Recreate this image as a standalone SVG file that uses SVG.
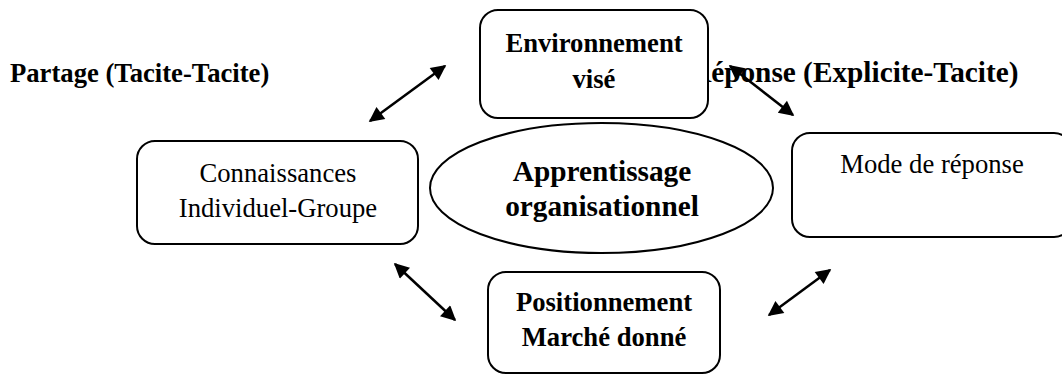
<svg xmlns="http://www.w3.org/2000/svg" width="1062" height="376" viewBox="0 0 1062 376">
<style>
.box{fill:#fff;stroke:#000;stroke-width:2}
.t{font-family:"Liberation Serif","Times New Roman",serif;font-size:26.67px;fill:#000}
.b{font-weight:bold}
.c{text-anchor:middle}
.big{font-size:29.3px}
.ar{stroke:#000;stroke-width:2.5;fill:none;marker-start:url(#ah);marker-end:url(#ah)}
</style>
<defs>
<marker id="ah" viewBox="0 0 10 10" refX="9" refY="5" markerWidth="7" markerHeight="6" orient="auto-start-reverse" markerUnits="strokeWidth">
<path d="M0,0 L10,5 L0,10 z" fill="#000"/>
</marker>
</defs>
<rect width="1062" height="376" fill="#fff"/>
<g id="label-partage"><text class="t b" x="10" y="82">Partage (Tacite-Tacite)</text></g>
<g id="label-reponse"><text class="t b big" x="690" y="82">Réponse (Explicite-Tacite)</text></g>
<g id="connectors">
<line class="ar" x1="370" y1="121" x2="445" y2="66"/>
<line class="ar" x1="730" y1="66" x2="793" y2="115"/>
<line class="ar" x1="395" y1="264" x2="455" y2="320"/>
<line class="ar" x1="769" y1="315" x2="830" y2="270"/>
</g>
<g id="environnement">
<rect class="box" x="480" y="10" width="228" height="108" rx="18"/>
<text class="t b c" x="594" y="52">Environnement</text>
<text class="t b c" x="594" y="88">visé</text>
</g>
<g id="connaissances">
<rect class="box" x="137" y="141" width="281" height="103" rx="18"/>
<text class="t c" x="278" y="182">Connaissances</text>
<text class="t c" x="278" y="217">Individuel-Groupe</text>
</g>
<g id="apprentissage">
<ellipse class="box" cx="601.5" cy="188" rx="171.5" ry="65"/>
<text class="t b c big" x="602" y="181">Apprentissage</text>
<text class="t b c big" x="602" y="216">organisationnel</text>
</g>
<g id="mode">
<rect class="box" x="792" y="133" width="280" height="104" rx="18"/>
<text class="t c" x="932" y="173">Mode de réponse</text>
</g>
<g id="positionnement">
<rect class="box" x="488" y="272" width="232" height="101" rx="18"/>
<text class="t b c" x="604" y="311">Positionnement</text>
<text class="t b c" x="604" y="346">Marché donné</text>
</g>
</svg>
